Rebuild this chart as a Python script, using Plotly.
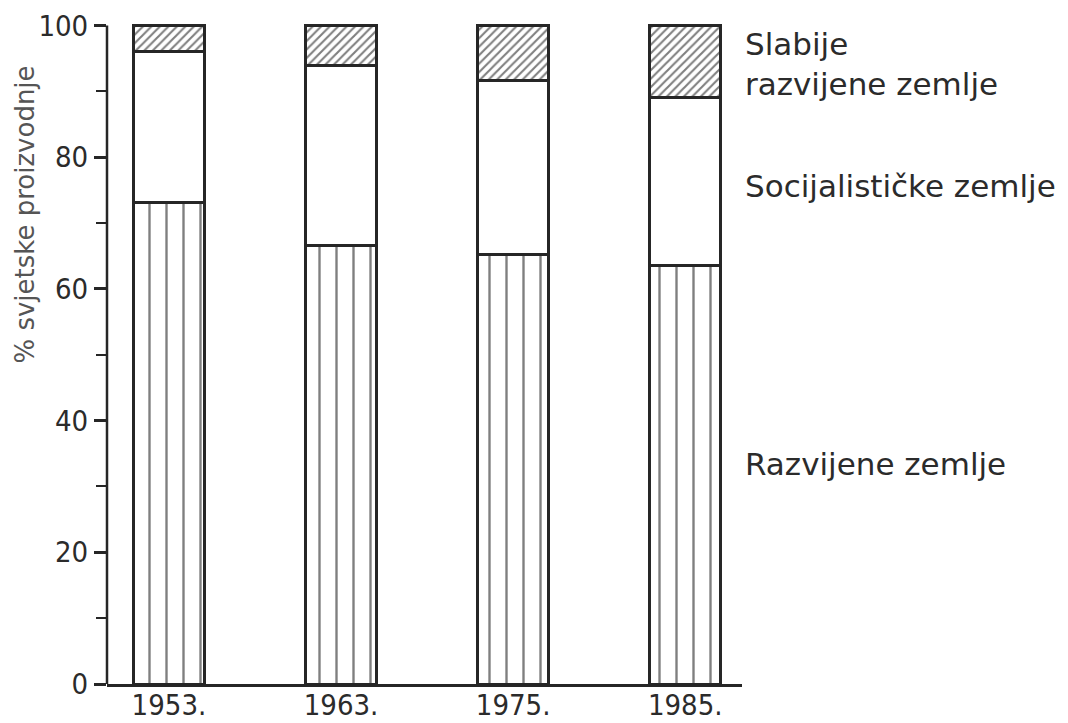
import plotly.graph_objects as go

years = ["1953.", "1963.", "1975.", "1985."]
razvijene = [73.1, 66.6, 65.3, 63.6]
socijalisticke = [23.0, 27.4, 26.4, 25.5]
slabije = [3.9, 6.0, 8.3, 10.9]

label_razvijene = "Razvijene zemlje"
label_socijalisticke = "Socijalističke zemlje"
label_slabije = "Slabije<br>razvijene zemlje"
y_title = "% svjetske proizvodnje"

ink = "#262626"
line = dict(color=ink, width=3)

fig = go.Figure()
fig.add_trace(go.Bar(
    x=years, y=razvijene, name=label_razvijene, width=0.41,
    marker=dict(color="white", line=line,
                pattern=dict(shape="|", fgcolor="#000000", bgcolor="white", size=17, solidity=0.14)),
))
fig.add_trace(go.Bar(
    x=years, y=socijalisticke, name=label_socijalisticke, width=0.41,
    marker=dict(color="white", line=line),
))
fig.add_trace(go.Bar(
    x=years, y=slabije, name=label_slabije, width=0.41,
    marker=dict(color="white", line=line,
                pattern=dict(shape="/", fgcolor="#000000", bgcolor="white", size=6, solidity=0.35)),
))

# y axis line drawn only from 0 to 100
fig.add_shape(type="line", xref="paper", yref="y", x0=0, x1=0, y0=0, y1=100,
              line=dict(color=ink, width=2.5))

text_font = dict(family="DejaVu Sans", size=31, color="#2b2b2b")
for txt, yv in [(label_slabije, 94.1), (label_socijalisticke, 75.7), (label_razvijene, 33.4)]:
    fig.add_annotation(xref="paper", yref="y", x=1.0, y=yv, xanchor="left", yanchor="middle",
                       xshift=1, text=txt, showarrow=False, align="left", font=text_font)

# rotated y-axis title, placed high as in the original
fig.add_annotation(xref="paper", yref="y", x=0, y=71.3, xshift=-82, xanchor="center",
                   yanchor="middle", textangle=-90, text=y_title, showarrow=False,
                   font=dict(family="DejaVu Sans", size=26, color="#555555"))

tick_font = dict(family="DejaVu Sans Condensed, DejaVu Sans", size=29, color="#2b2b2b")

fig.update_layout(
    barmode="stack",
    width=1060, height=715,
    margin=dict(l=99, r=326, t=12, b=39),
    paper_bgcolor="white", plot_bgcolor="white",
    showlegend=False,
    xaxis=dict(
        type="category", range=[-0.36, 3.33], automargin=False,
        showline=True, linecolor=ink, linewidth=2.5,
        ticks="", showgrid=False, zeroline=False,
        tickfont=tick_font, ticklabelstandoff=-7, ticklabeloverflow="allow",
    ),
    yaxis=dict(
        range=[0, 100.85], automargin=False, showline=False, showgrid=False, zeroline=False,
        tickvals=[0, 20, 40, 60, 80, 100],
        ticks="outside", ticklen=12, tickwidth=2.5, tickcolor=ink,
        minor=dict(dtick=10, tick0=0, ticks="outside", ticklen=10, tickwidth=2, tickcolor=ink),
        tickfont=tick_font, ticklabeloverflow="allow",
    ),
)

fig.write_html("out.html")
